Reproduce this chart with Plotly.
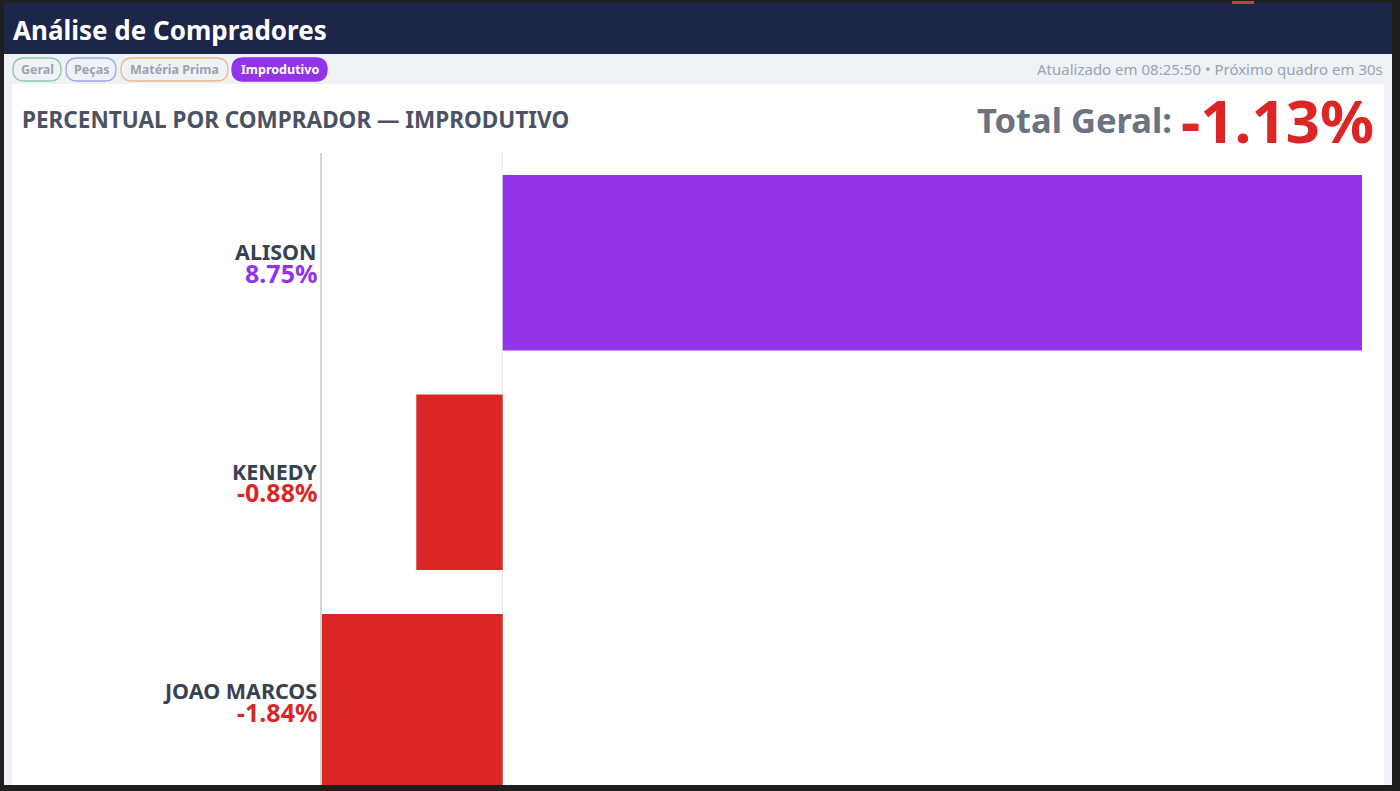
import plotly.graph_objects as go

W, H = 1400, 791

# ---- data ----
compradores = ["ALISON", "KENEDY", "JOAO MARCOS"]
percentuais = [8.75, -0.88, -1.84]
total_geral = -1.13
abas = ["Geral", "Peças", "Matéria Prima", "Improdutivo"]
aba_ativa = "Improdutivo"
atualizado = "Atualizado em 08:25:50 • Próximo quadro em 30s"

PURPLE = "#9333ea"
RED = "#dc2626"
FONT = "Noto Sans"


def px(x):
    return x / W


def py(y):
    return 1 - y / H


bar_colors = [PURPLE if v >= 0 else RED for v in percentuais]

fig = go.Figure(
    go.Bar(
        x=percentuais,
        y=compradores,
        orientation="h",
        marker=dict(color=bar_colors, line=dict(width=0)),
        width=0.8,
        hoverinfo="skip",
    )
)

shapes = []
# outer dark frame
shapes.append(dict(type="rect", xref="paper", yref="paper", x0=0, x1=1, y0=0, y1=1,
                   fillcolor="#1f1f1f", line=dict(width=0), layer="below"))
# light page area
shapes.append(dict(type="rect", xref="paper", yref="paper", x0=px(4), x1=px(1392), y0=py(785), y1=py(54),
                   fillcolor="#eef2f6", line=dict(width=0), layer="below"))
# navy header
shapes.append(dict(type="rect", xref="paper", yref="paper", x0=px(4), x1=px(1392), y0=py(54), y1=py(3),
                   fillcolor="#1b2649", line=dict(width=0), layer="below"))
# red tiny mark at top
shapes.append(dict(type="rect", xref="paper", yref="paper", x0=px(1232), x1=px(1254), y0=py(4), y1=py(1),
                   fillcolor="#c0443f", line=dict(width=0), layer="below"))
# white panel
shapes.append(dict(type="rect", xref="paper", yref="paper", x0=px(12), x1=px(1384), y0=py(785), y1=py(84),
                   fillcolor="#ffffff", line=dict(width=0), layer="below"))


def pill(x0, x1, y0, y1, fill, border):
    r = (y1 - y0) / 2
    X0, X1 = x0, x1
    path = (f"M {px(X0 + r)},{py(y0)} L {px(X1 - r)},{py(y0)} "
            f"Q {px(X1)},{py(y0)} {px(X1)},{py(y0 + r)} "
            f"Q {px(X1)},{py(y1)} {px(X1 - r)},{py(y1)} "
            f"L {px(X0 + r)},{py(y1)} "
            f"Q {px(X0)},{py(y1)} {px(X0)},{py(y0 + r)} "
            f"Q {px(X0)},{py(y0)} {px(X0 + r)},{py(y0)} Z")
    return dict(type="path", xref="paper", yref="paper", path=path,
                fillcolor=fill, line=dict(color=border, width=1.3), layer="below")


pill_pos = [(13, 61), (66, 116), (121, 228), (232, 327)]
pill_border = ["#8fcaa8", "#9aa8e8", "#e8bb88", PURPLE]
annotations = []
for name, (a, b), bc in zip(abas, pill_pos, pill_border):
    active = name == aba_ativa
    shapes.append(pill(a, b, 58, 81, PURPLE if active else "rgba(0,0,0,0)", bc))
    annotations.append(dict(text=f"<b>{name}</b>", xref="paper", yref="paper",
                            x=px((a + b) / 2), y=py(69.5), xanchor="center", yanchor="middle",
                            showarrow=False,
                            font=dict(family=FONT, size=12.5, color="#ffffff" if active else "#9ca3af")))

annotations += [
    dict(text="<b>Análise de Compradores</b>", xref="paper", yref="paper", x=px(11), y=py(30),
         xanchor="left", yanchor="middle", showarrow=False,
         font=dict(family=FONT, size=26, color="#ffffff")),
    dict(text=atualizado, xref="paper", yref="paper", x=px(1385), y=py(69),
         xanchor="right", yanchor="middle", showarrow=False,
         font=dict(family=FONT, size=15, color="#9ca3af")),
    dict(text="<b>PERCENTUAL POR COMPRADOR — IMPRODUTIVO</b>", xref="paper", yref="paper",
         x=px(20), y=py(120), xanchor="left", yanchor="middle", showarrow=False,
         font=dict(family=FONT, size=22.5, color="#4b5263")),
    dict(text="<b>Total Geral:</b>", xref="paper", yref="paper", x=px(1174), y=py(120),
         xanchor="right", yanchor="middle", showarrow=False,
         font=dict(family=FONT, size=34.5, color="#6b7280")),
    dict(text=f"<b>{total_geral:.2f}%</b>", xref="paper", yref="paper", x=px(1376), y=py(120),
         xanchor="right", yanchor="middle", showarrow=False,
         font=dict(family=FONT, size=60, color=RED)),
]

# category labels (name + value) anchored to the category axis positions
for n, v, c in zip(compradores, percentuais, bar_colors):
    annotations.append(dict(text=f"<b>{n}</b>", xref="paper", yref="y", x=px(319), y=n,
                            xanchor="right", yanchor="middle", yshift=11, showarrow=False,
                            font=dict(family=FONT, size=21.5, color="#374151")))
    annotations.append(dict(text=f"<b>{v:.2f}%</b>", xref="paper", yref="y", x=px(319), y=n,
                            xanchor="right", yanchor="middle", yshift=-10, showarrow=False,
                            font=dict(family=FONT, size=25, color=c)))

# chart area: top 153, bottom 785 (cut off), pitch ~219.5 px per category
top_px, bot_px, pitch = 153, 785, 219.5
y_bottom = (bot_px - top_px) / pitch - 0.5

fig.update_layout(
    width=W, height=H,
    margin=dict(l=0, r=0, t=0, b=0),
    paper_bgcolor="#1f1f1f",
    plot_bgcolor="rgba(0,0,0,0)",
    showlegend=False,
    shapes=shapes,
    annotations=annotations,
    bargap=0.2,
    xaxis=dict(domain=[px(322), px(1362)], range=[min(percentuais), max(percentuais)],
               showticklabels=False, showgrid=False, zeroline=True,
               zerolinecolor="#ececec", zerolinewidth=1, showline=False, fixedrange=True),
    yaxis=dict(domain=[py(bot_px), py(top_px)], type="category",
               categoryorder="array", categoryarray=compradores,
               range=[y_bottom, -0.5],
               showticklabels=False,
               showline=True, linecolor="#d4d4d4", linewidth=1.5,
               showgrid=False, zeroline=False, ticks="",
               fixedrange=True),
    font=dict(family=FONT),
)

fig.write_html("out.html", config={"displayModeBar": False})
